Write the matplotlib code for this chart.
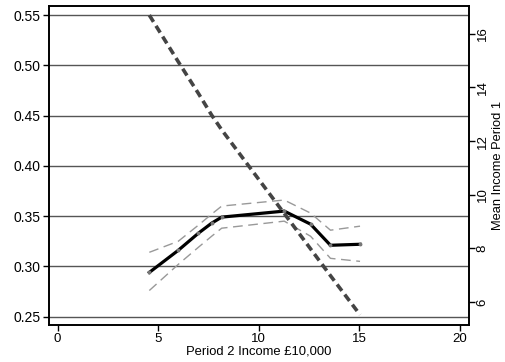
import matplotlib
matplotlib.use("Agg")
from matplotlib import pyplot as plt

plt.rcParams['font.family'] = ['Liberation Sans', 'DejaVu Sans']
plt.rcParams['font.size'] = 9.5

# period 2 income (x) and estimates
income2 = [4.56, 6.0, 7.0, 7.66, 8.16, 11.27, 12.58, 13.57, 15.04]
share = [0.294, 0.316, 0.333, 0.343, 0.349, 0.355, 0.342, 0.321, 0.322]
share_hi = [0.314, 0.325, 0.341, 0.352, 0.360, 0.366, 0.353, 0.336, 0.340]
share_lo = [0.276, 0.302, 0.319, 0.330, 0.338, 0.345, 0.330, 0.308, 0.305]
mean_inc1 = [16.70, 14.96, 13.78, 12.97, 12.42, 9.30, 7.98, 6.98, 5.52]

left_ticks = [0.25, 0.30, 0.35, 0.40, 0.45, 0.50, 0.55]
right_ticks = [6, 8, 10, 12, 14, 16]
x_ticks = [0, 5, 10, 15, 20]

fig = plt.figure(figsize=(5.05, 3.62), dpi=100)
ax = fig.add_axes([49/505, 37/362, 420/505, 319/362])

for t in left_ticks:
    ax.axhline(t, color="#555555", lw=1.0, zorder=1)

ax.plot(income2, share_hi, color="#999999", lw=1.0, dashes=(7, 4), zorder=3)
ax.plot(income2, share_lo, color="#999999", lw=1.0, dashes=(7, 4), zorder=3)
ax.plot(income2, share, color="black", lw=2.3, marker="o", ms=1.8,
        mfc="#777777", mec="#777777", zorder=4)

ax.set_xlim(-0.43, 20.46)
ax.set_ylim(0.2417, 0.559)
ax.set_yticks(left_ticks)
ax.set_yticklabels(["%.2f" % t for t in left_ticks], fontsize=10)
ax.set_xticks(x_ticks)
ax.set_xticklabels([str(t) for t in x_ticks], fontsize=9.5)
ax.set_xlabel("Period 2 Income £10,000", fontsize=9.4)
ax.xaxis.set_label_coords(0.5, -0.064)
ax.tick_params(direction="out", length=4, width=1, pad=2)

ax2 = ax.twinx()
ax2.plot(income2, mean_inc1, color="#444444", lw=2.6, dashes=(2.2, 1.3), zorder=5)
ax2.set_ylim(5.14, 17.04)
ax2.set_yticks(right_ticks)
ax2.set_ylabel("Mean Income Period 1", fontsize=9.3)
ax2.yaxis.set_label_coords(1.069, 0.5)
ax2.yaxis.label.set_va("center")
ax2.tick_params(direction="out", length=4, width=1, pad=1.5, labelsize=9.5)
for lab in ax2.get_yticklabels():
    lab.set_rotation(90)
    lab.set_va("center")

for a in (ax, ax2):
    for s in a.spines.values():
        s.set_linewidth(1.2)

fig.savefig("out.png", dpi=100)
